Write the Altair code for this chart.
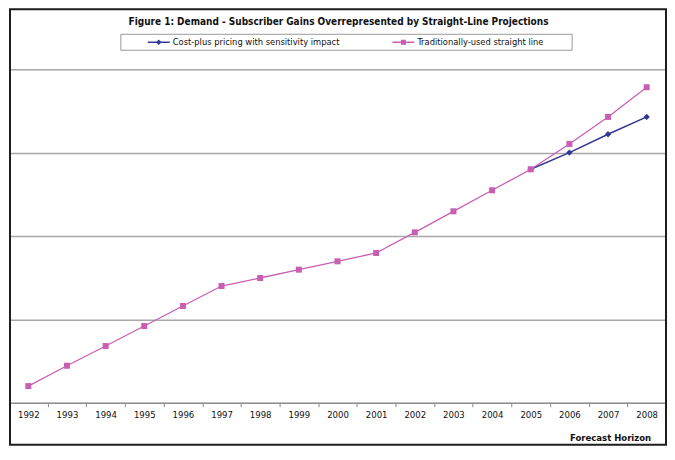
import altair as alt
import pandas as pd

years = [str(y) for y in range(1992, 2009)]
straight_line = [5.0, 11.1, 17.0, 23.0, 29.0, 35.0, 37.4, 39.9, 42.4, 44.9,
                 51.1, 57.4, 63.7, 70.0, 77.6, 85.7, 94.6]
cost_plus = [None, None, None, None, None, None, None, None, None, None,
             None, None, None, 70.0, 75.0, 80.5, 85.7]
series_names = ["Cost-plus pricing with sensitivity impact",
                "Traditionally-used straight line"]
title_text = "Figure 1: Demand - Subscriber Gains Overrepresented by Straight-Line Projections"
x_title = "Forecast Horizon"

BLUE = "#363693"
PINK = "#c95fb3"
FONT = "DejaVu Sans Condensed, Liberation Sans Narrow, Arial Narrow, sans-serif"

rows = []
for y, a, b in zip(years, cost_plus, straight_line):
    if a is not None:
        rows.append({"year": y, "series": series_names[0], "value": a})
    rows.append({"year": y, "series": series_names[1], "value": b})
df = pd.DataFrame(rows)
dummy = pd.DataFrame({"k": [0]})

x_enc = alt.X("year:O", sort=years,
              scale=alt.Scale(type="band", paddingInner=0, paddingOuter=0, domain=years),
              axis=alt.Axis(title=x_title, labelAngle=0, tickBand="extent",
                            domainColor="#8c8c8c", domainWidth=1.5,
                            tickColor="#8c8c8c", tickWidth=1, tickSize=4,
                            labelFont=FONT, labelFontSize=9.5, labelColor="#111",
                            labelPadding=3, grid=False,
                            titleFont=FONT, titleFontSize=9.5, titleFontWeight="bold",
                            titleColor="#111", titleX=602, titleY=35,
                            titleAlign="center", titleBaseline="middle"))
y_enc = alt.Y("value:Q", scale=alt.Scale(domain=[0, 100], nice=False, zero=True),
              axis=alt.Axis(title=None, labels=False, ticks=False, domain=False,
                            grid=True, values=[25, 50, 75, 100],
                            gridColor="#a8a8a8", gridWidth=1.5))

def series_layer(name, color, shape, size, sw):
    d = df[df.series == name]
    base = alt.Chart(d)
    line = base.mark_line(color=color, strokeWidth=sw).encode(x=x_enc, y=y_enc)
    pts = base.mark_point(shape=shape, filled=True, color=color, size=size,
                          opacity=1).encode(x=x_enc, y=y_enc)
    return [line, pts]

layers = []
layers += series_layer(series_names[0], BLUE, "diamond", 40, 1.5)
layers += series_layer(series_names[1], PINK, "square", 36, 1.3)

# title
layers.append(alt.Chart(dummy).mark_text(text=title_text, font=FONT, fontSize=10,
                                         fontWeight="bold", color="#111",
                                         align="center", baseline="middle")
              .encode(x=alt.value(330), y=alt.value(-47)))

# legend box
layers.append(alt.Chart(dummy).mark_rect(fillOpacity=0, stroke="#9a9a9a", strokeWidth=1)
              .encode(x=alt.value(112), x2=alt.value(564), y=alt.value(-35), y2=alt.value(-19)))

def legend_item(x0, name, color, shape, size):
    out = []
    out.append(alt.Chart(dummy).mark_rule(color=color, strokeWidth=1.5)
               .encode(x=alt.value(x0), x2=alt.value(x0 + 22), y=alt.value(-27)))
    out.append(alt.Chart(dummy).mark_point(shape=shape, filled=True, color=color,
                                           size=size, opacity=1)
               .encode(x=alt.value(x0 + 11), y=alt.value(-27)))
    out.append(alt.Chart(dummy).mark_text(text=name, font=FONT, fontSize=9.3,
                                          color="#111", align="left", baseline="middle")
               .encode(x=alt.value(x0 + 25), y=alt.value(-27)))
    return out

layers += legend_item(139, series_names[0], BLUE, "diamond", 30)
layers += legend_item(384, series_names[1], PINK, "square", 26)

# outer frame
layers.append(alt.Chart(dummy).mark_rect(fillOpacity=0, stroke="#1e1e1e", strokeWidth=2)
              .encode(x=alt.value(1), x2=alt.value(658), y=alt.value(-60), y2=alt.value(376)))

chart = alt.layer(*layers).properties(
    width=658, height=334, padding=0
).configure_view(stroke=None).configure(background="white")

chart.save("out.html", embed_options={"renderer": "svg", "actions": False})
